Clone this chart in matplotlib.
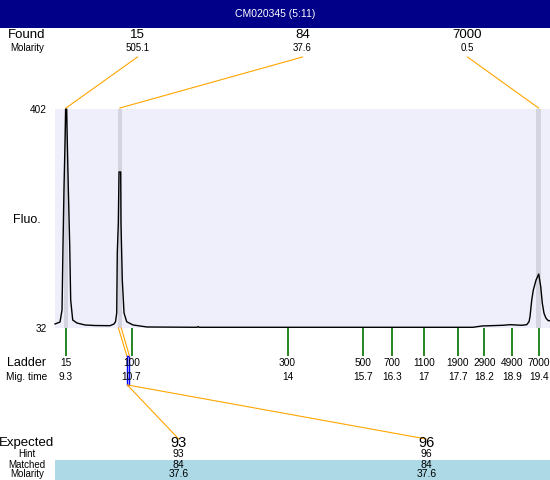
import matplotlib.pyplot as plt
from matplotlib import transforms
from matplotlib.patches import Rectangle

plt.rcParams['font.family'] = ['Liberation Sans', 'DejaVu Sans']

W, H = 550, 480

title = "CM020345 (5:11)"

# electropherogram trace: migration time (s) vs fluorescence
trace_time = [9.065, 9.172, 9.215, 9.236, 9.257, 9.279, 9.294, 9.313, 9.328, 9.349,
              9.379, 9.400, 9.443, 9.535, 9.706, 9.919, 10.24, 10.325, 10.357, 10.383,
              10.395, 10.417, 10.432, 10.468, 10.474, 10.502, 10.539, 10.596, 10.731, 11.03,
              12.097, 12.12, 12.14, 15.151, 17.99, 18.183, 18.631, 18.78, 19.03, 19.138,
              19.187, 19.208, 19.245, 19.279, 19.337, 19.394, 19.437, 19.471, 19.507, 19.55,
              19.6, 19.635]
trace_fluo = [38.8, 42.1, 62.4, 172.2, 268.5, 344.6, 402, 402, 344.6, 268.5,
              172.2, 79.3, 45.5, 40.4, 37.1, 36.2, 35.9, 38.8, 42.6, 57.3,
              158.7, 209.4, 295.6, 295.6, 209.4, 113.1, 57.3, 42.6, 37.1, 33.7,
              33.2, 34.5, 33.2, 33.2, 33.2, 35.4, 36.6, 37.6, 36.6, 37.6,
              42.6, 51.1, 79.3, 96.2, 113.1, 123.2, 101.8, 73.7, 56.8, 48.4,
              44.3, 44.3]

fluo_range = [32, 402]
time_range = [9.065, 19.635]

# found peaks
found_size = ['15', '84', '7000']
found_molarity = ['505.1', '37.6', '0.5']
found_time = [9.30, 10.45, 19.39]

# ladder
ladder_size = ['15', '100', '300', '500', '700', '1100', '1900', '2900', '4900', '7000']
ladder_time = [9.30, 10.70, 14.03, 15.65, 16.26, 16.95, 17.67, 18.23, 18.83, 19.40]
ladder_time_label = ['9.3', '10.7', '14', '15.7', '16.3', '17', '17.7', '18.2', '18.9', '19.4']

# expected fragments
expected_size = ['93', '96']
hint_size = ['93', '96']
matched_size = ['84', '84']
matched_molarity = ['37.6', '37.6']
expected_window = [10.60, 10.655]

fig = plt.figure(figsize=(W / 100, H / 100), dpi=100)

# ---- trace panel ----
ax = fig.add_axes([55 / W, (H - 328) / H, 495 / W, 219 / H])
ax.set_facecolor('#EFEFFC')
for t in found_time:
    ax.axvspan(t - 0.05, t + 0.05, color='#D4D4E0', lw=0)
ax.plot(trace_time, trace_fluo, color='black', lw=1.0, clip_on=False)
ax.set_xlim(time_range)
ax.set_ylim(fluo_range)
ax.set_xticks([])
ax.set_yticks(fluo_range)
ax.set_yticklabels([str(v) for v in fluo_range], fontsize=7.2)
ax.tick_params(axis='y', length=0, pad=6)
for s in ax.spines.values():
    s.set_visible(False)

# ---- overlay in pixel coordinates ----
ov = fig.add_axes([0, 0, 1, 1], zorder=5)
ov.set_xlim(0, W)
ov.set_ylim(H, 0)
ov.axis('off')
ov.patch.set_alpha(0)

# x from trace time, y in pixels
blend = transforms.blended_transform_factory(ax.transData, ov.transData)


def px_x(t):
    return ov.transData.inverted().transform(ax.transData.transform((t, 0)))[0]


ov.add_patch(Rectangle((0, 0), W, 28, color='#000088', lw=0))
ov.text(W / 2, 14, title, color='white', fontsize=7.5, ha='center', va='center')

# found row
ov.text(27, 35, 'Found', fontsize=9.5, ha='center', va='center')
ov.text(27, 48, 'Molarity', fontsize=7, ha='center', va='center')
n = len(found_size)
for i, (sz, mol, t) in enumerate(zip(found_size, found_molarity, found_time)):
    sx = 55 + 495 * (i + 0.5) / n
    ov.text(sx, 35, sz, fontsize=9.5, ha='center', va='center')
    ov.text(sx, 48, mol, fontsize=7, ha='center', va='center')
    ov.plot([sx, px_x(t)], [57, 108], color='orange', lw=0.8)

ov.text(27, 220, 'Fluo.', fontsize=9, ha='center', va='center')

# ladder row
ov.vlines(ladder_time, 328, 356, transform=blend, color='#007000', lw=1.2)
ov.text(27, 363, 'Ladder', fontsize=9, ha='center', va='center')
ov.text(27, 377, 'Mig. time', fontsize=7.3, ha='center', va='center')
for sz, t, lab in zip(ladder_size, ladder_time, ladder_time_label):
    ov.text(t, 363, sz, fontsize=7.3, ha='center', va='center', transform=blend)
    ov.text(t, 377, lab, fontsize=7.3, ha='center', va='center', transform=blend)

# expected window and connectors
t0, t1 = expected_window
ov.plot([t0, t0, t1, t1, t0], [356, 385, 385, 356, 356], color='blue', lw=1.0, transform=blend)
ov.plot([found_time[1] - 0.03, t0], [328, 356], color='orange', lw=0.8, transform=blend)
ov.plot([found_time[1] + 0.03, t1], [328, 356], color='orange', lw=0.8, transform=blend)

ov.add_patch(Rectangle((55, 460), W - 55, 20, color='#ADD8E6', lw=0))
ov.text(27, 443, 'Expected', fontsize=9.5, ha='center', va='center')
ov.text(27, 454, 'Hint', fontsize=7, ha='center', va='center')
ov.text(27, 465, 'Matched', fontsize=7, ha='center', va='center')
ov.text(27, 474, 'Molarity', fontsize=7, ha='center', va='center')
m = len(expected_size)
for i in range(m):
    sx = 55 + 495 * (i + 0.5) / m
    ov.plot([px_x(t0 + 0.01 * (i + 1)), sx], [385, 439], color='orange', lw=0.8)
    ov.text(sx, 443, expected_size[i], fontsize=10.5, ha='center', va='center')
    ov.text(sx, 454, hint_size[i], fontsize=7.5, ha='center', va='center')
    ov.text(sx, 465, matched_size[i], fontsize=7.5, ha='center', va='center')
    ov.text(sx, 474, matched_molarity[i], fontsize=7.5, ha='center', va='center')

fig.savefig('out.png', dpi=100)
